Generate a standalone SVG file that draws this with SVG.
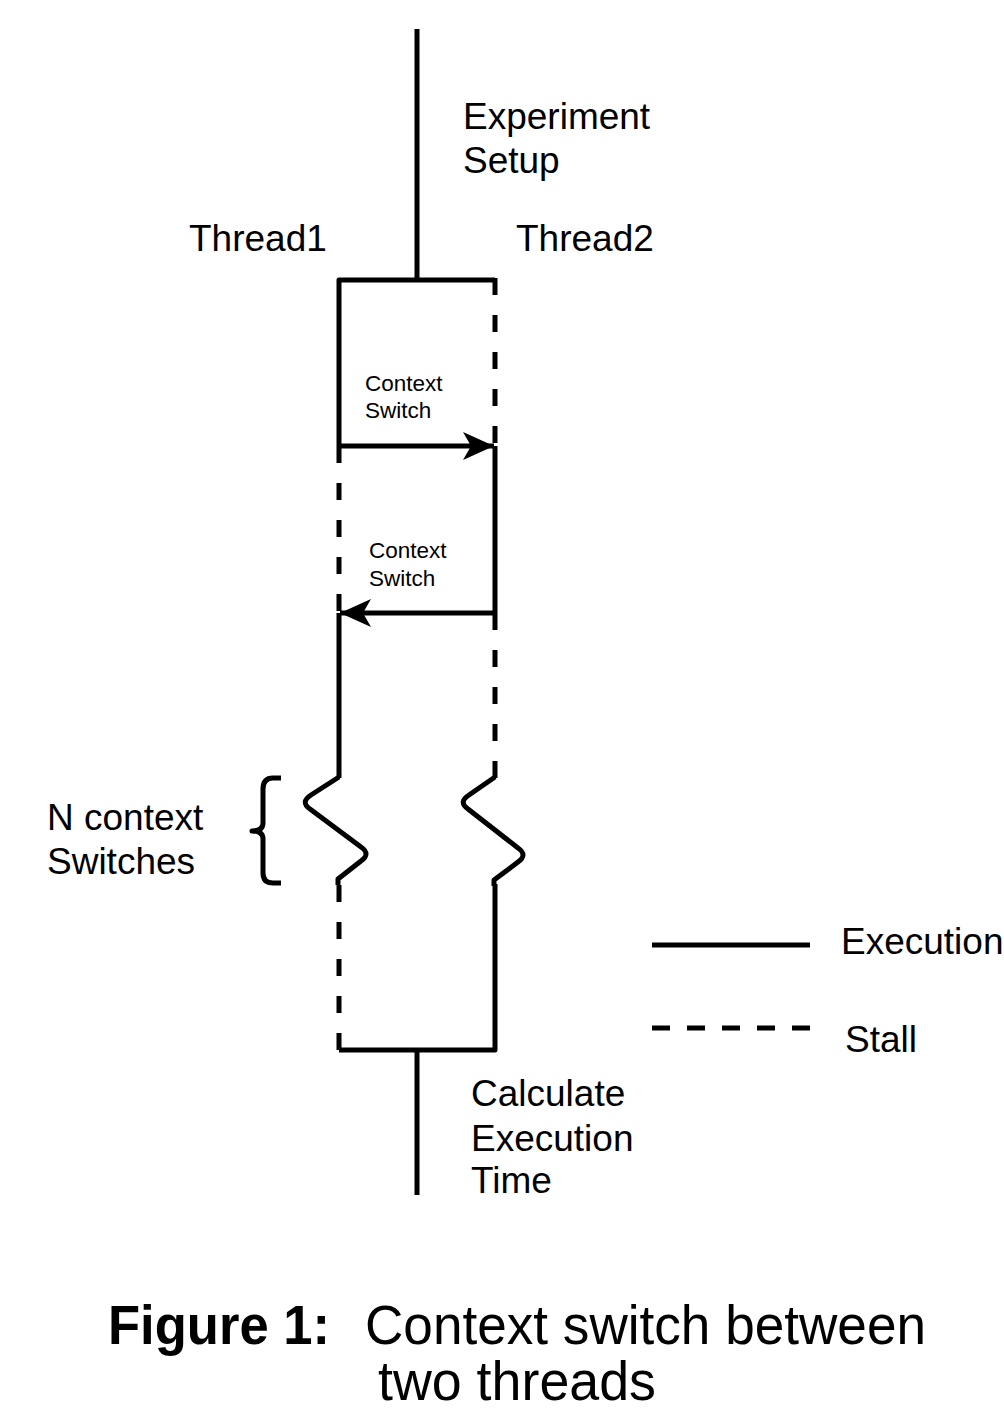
<svg xmlns="http://www.w3.org/2000/svg" width="1004" height="1412" viewBox="0 0 1004 1412">
  <style>
    .ln { fill: none; stroke: #000; stroke-width: 5; stroke-linejoin: round; }
    .dash { stroke-dasharray: 17 20; }
    .lbl { font-family: "Liberation Sans", Arial, sans-serif; font-size: 37px; fill: #000; }
    .sm { font-family: "Liberation Sans", Arial, sans-serif; font-size: 22.5px; fill: #000; }
    .cap { font-family: "Liberation Sans", Arial, sans-serif; font-size: 55px; fill: #000; }
  </style>
  <defs>
    <marker id="head" markerUnits="userSpaceOnUse" markerWidth="36" markerHeight="34" viewBox="-34 -17 36 34" refX="0" refY="0" orient="auto">
      <path d="M0,0 L-31,-14 L-23,0 L-31,14 Z" fill="#000"/>
    </marker>
  </defs>
  <rect width="1004" height="1412" fill="#fff"/>

  <g id="connectors">
    <!-- setup trunk and fork -->
    <path class="ln" d="M417,29 V280"/>
    <path class="ln" d="M339,446 V280 H495"/>
    <path class="ln dash" d="M495,278 V446"/>
    <!-- first switch: thread1 -> thread2 -->
    <path class="ln" d="M339,446 H494" marker-end="url(#head)"/>
    <path class="ln" d="M495,446 V613"/>
    <path class="ln dash" d="M339,446 V613"/>
    <!-- second switch: thread2 -> thread1 -->
    <path class="ln" d="M495,613 H340" marker-end="url(#head)"/>
    <path class="ln" d="M339,613 V778"/>
    <path class="ln dash" d="M495,613 V778"/>
    <!-- breaks for the N repeated switches -->
    <path class="ln" d="M339,777 L311,795 Q300,802 310,809 L361,847 Q371,854 361,861 L338,879 V885"/>
    <path class="ln" d="M495,777 L469,795 Q458,802 468,809 L518,848 Q528,855 518,862 L494,880 V886"/>
    <!-- brace -->
    <path class="ln" d="M281,778 H273 Q263,778 263,789 V823 Q263,831 252,831 Q263,831 263,839 V873 Q263,883 273,883 H281"/>
    <!-- join and finish -->
    <path class="ln dash" d="M339,1050 V882"/>
    <path class="ln" d="M495,884 V1050 H339"/>
    <path class="ln" d="M417,1050 V1195"/>
    <!-- legend samples -->
    <path class="ln" d="M652,945 H810"/>
    <path class="ln" d="M652,1028 H810" style="stroke-dasharray: 18 17"/>
  </g>

  <g id="experiment-setup">
    <text class="lbl" x="463" y="129" font-size="38">Experiment</text>
    <text class="lbl" x="463" y="173" font-size="38">Setup</text>
  </g>
  <g id="thread1"><text class="lbl" x="189" y="251">Thread1</text></g>
  <g id="thread2"><text class="lbl" x="516" y="251">Thread2</text></g>
  <g id="switch-1">
    <text class="sm" x="365" y="391">Context</text>
    <text class="sm" x="365" y="418">Switch</text>
  </g>
  <g id="switch-2">
    <text class="sm" x="369" y="558">Context</text>
    <text class="sm" x="369" y="586">Switch</text>
  </g>
  <g id="n-switches">
    <text class="lbl" x="47" y="830">N context</text>
    <text class="lbl" x="47" y="874">Switches</text>
  </g>
  <g id="calculate">
    <text class="lbl" x="471" y="1106">Calculate</text>
    <text class="lbl" x="471" y="1151">Execution</text>
    <text class="lbl" x="471" y="1193">Time</text>
  </g>
  <g id="legend">
    <text class="lbl" x="841" y="954">Execution</text>
    <text class="lbl" x="845" y="1052">Stall</text>
  </g>
  <g id="caption">
    <text class="cap" x="108" y="1344" font-weight="bold" textLength="222" lengthAdjust="spacingAndGlyphs">Figure 1:</text>
    <text class="cap" x="365" y="1344" textLength="561" lengthAdjust="spacingAndGlyphs">Context switch between</text>
    <text class="cap" x="378" y="1400" textLength="278" lengthAdjust="spacingAndGlyphs">two threads</text>
  </g>
</svg>
